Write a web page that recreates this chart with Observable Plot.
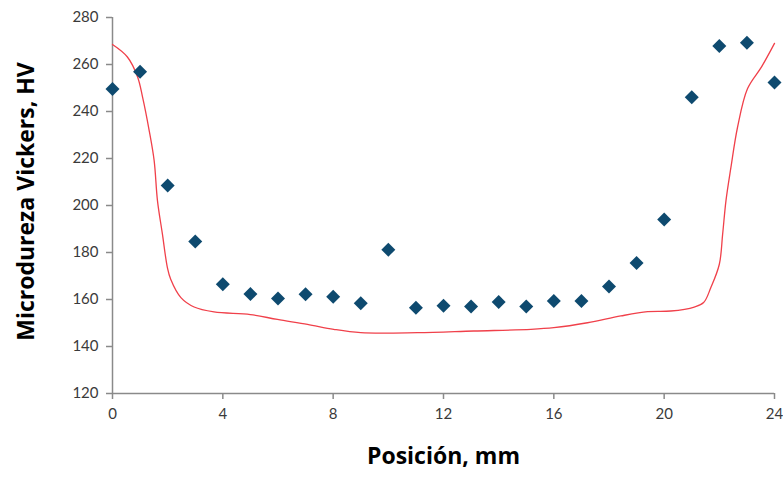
<!DOCTYPE html>
<html>
<head>
<meta charset="utf-8">
<script src="https://cdn.jsdelivr.net/npm/d3@7"></script>
<script src="https://cdn.jsdelivr.net/npm/@observablehq/plot@0.6"></script>
<style>
  html, body { margin: 0; padding: 0; background: #fff; }
  #chart svg { display: block; }
</style>
</head>
<body>
<div id="chart"></div>
<script>
// Measured hardness (points)
const positions = [0,1,2,3,4,5,6,7,8,9,10,11,12,13,14,15,16,17,18,19,20,21,22,23,24];
const hardness = [249.6,256.9,208.5,184.7,166.5,162.3,160.4,162.2,161.2,158.4,181.2,156.5,157.3,157.0,158.9,157.0,159.4,159.4,165.5,175.5,194.0,246.1,267.9,269.3,252.3];

// Model curve (red line)
const curveX = [0,0.54,0.91,1.09,1.33,1.51,1.63,1.81,1.99,2.11,2.48,2.96,3.68,5.0,5.98,7.07,8.02,9.0,11.06,13.1,15.17,16.0,17.22,18.43,19.4,20.24,21.09,21.43,21.69,22.0,22.12,22.24,22.42,22.66,23.02,23.53,24.0];
const curveY = [268.5,263.2,254.7,246.1,231.9,219.1,202.1,187.8,173.6,168.6,160.8,156.8,154.7,153.6,151.5,149.4,147.3,145.9,145.9,146.6,147.3,148.0,150.1,153.0,154.8,155.1,156.8,158.7,165.0,175.0,187.8,202.0,216.2,233.3,249.7,259.0,269.0];

const xTicks = [0,4,8,12,16,20,24];
const yTicks = [120,140,160,180,200,220,240,260,280];

const points = positions.map((x, i) => ({x, y: hardness[i]}));
const curve = curveX.map((x, i) => ({x, y: curveY[i]}));

const axisColor = "#8a8a8a";
const tickText = "#3a3a3a";

const chart = Plot.plot({
  width: 783,
  height: 479,
  marginLeft: 112,
  marginRight: 9,
  marginTop: 17,
  marginBottom: 86,
  style: {fontFamily: "Lato, 'Open Sans', sans-serif", fontSize: "15px", color: tickText, background: "#fff"},
  x: {domain: [0, 24]},
  y: {domain: [120, 280]},
  marks: [
    Plot.ruleX([0], {stroke: axisColor, strokeWidth: 1.5}),
    Plot.ruleY([120], {stroke: axisColor, strokeWidth: 1.5}),
    Plot.axisX({ticks: xTicks, tickSize: 6, tickPadding: 9, stroke: axisColor, strokeWidth: 1.5, label: null, fill: tickText, fontSize: 15}),
    Plot.axisY({ticks: yTicks, tickSize: 6, tickPadding: 8, stroke: axisColor, strokeWidth: 1.5, label: null, fill: tickText, fontSize: 15}),
    Plot.line(curve, {x: "x", y: "y", stroke: "#f0404a", strokeWidth: 1.3, curve: "catmull-rom"}),
    Plot.dot(points, {x: "x", y: "y", symbol: "diamond2", r: 6.3, fill: "#0e4a6f", stroke: "none"}),
    Plot.text(["Microdureza Vickers, HV"], {frameAnchor: "left", textAnchor: "middle", rotate: -90, dx: -86, dy: -4, fontSize: 23, fontWeight: "bold", fill: "#000", fontFamily: "'Open Sans', sans-serif"}),
    Plot.text(["Posición, mm"], {frameAnchor: "bottom", dy: 70, fontSize: 23, fontWeight: "bold", fill: "#000", fontFamily: "'Open Sans', sans-serif"})
  ]
});
document.getElementById("chart").appendChild(chart);
</script>
</body>
</html>
